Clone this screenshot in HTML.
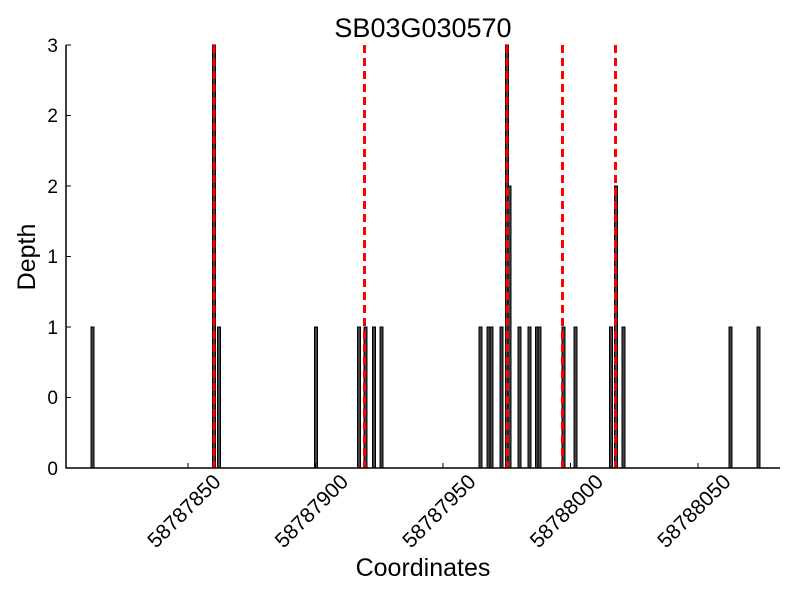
<!DOCTYPE html>
<html><head><meta charset="utf-8"><style>body{margin:0;background:#fff}svg{display:block}</style></head>
<body>
<svg width="800" height="600" xmlns="http://www.w3.org/2000/svg" font-family="Liberation Sans, sans-serif">
<rect width="800" height="600" fill="#fff"/>
<text x="423" y="37" font-size="27" text-anchor="middle">SB03G030570</text>
<g fill="#444" stroke="#000" stroke-width="1">
<rect x="91" y="327" width="3" height="141"/>
<rect x="212.5" y="45" width="3" height="423"/>
<rect x="217.5" y="327" width="3" height="141"/>
<rect x="314.5" y="327" width="3" height="141"/>
<rect x="357.5" y="327" width="3" height="141"/>
<rect x="364" y="327" width="3" height="141"/>
<rect x="372.5" y="327" width="3" height="141"/>
<rect x="380" y="327" width="3" height="141"/>
<rect x="479" y="327" width="3" height="141"/>
<rect x="487" y="327" width="3" height="141"/>
<rect x="490" y="327" width="3" height="141"/>
<rect x="500" y="327" width="3" height="141"/>
<rect x="505.5" y="45" width="3" height="423"/>
<rect x="508" y="186" width="3" height="282"/>
<rect x="518" y="327" width="3" height="141"/>
<rect x="528" y="327" width="3" height="141"/>
<rect x="535.5" y="327" width="3" height="141"/>
<rect x="538" y="327" width="3" height="141"/>
<rect x="562" y="327" width="3" height="141"/>
<rect x="574" y="327" width="3" height="141"/>
<rect x="609.5" y="327" width="3" height="141"/>
<rect x="614.5" y="186" width="3" height="282"/>
<rect x="622" y="327" width="3" height="141"/>
<rect x="729" y="327" width="3" height="141"/>
<rect x="757" y="327" width="3" height="141"/>
</g>
<g stroke="#f00" stroke-width="3" stroke-dasharray="8,5">
<line x1="214" y1="45" x2="214" y2="468"/>
<line x1="364.5" y1="45" x2="364.5" y2="468"/>
<line x1="507" y1="45" x2="507" y2="468"/>
<line x1="562.5" y1="45" x2="562.5" y2="468"/>
<line x1="615.5" y1="45" x2="615.5" y2="468"/>
</g>
<g stroke="#000" stroke-width="1.5">
<line x1="66" y1="45" x2="66" y2="468.5"/>
<line x1="65.5" y1="468" x2="780" y2="468"/>
</g>
<g stroke="#000" stroke-width="1">
<line x1="66" y1="45" x2="71" y2="45"/><line x1="66" y1="115.5" x2="71" y2="115.5"/><line x1="66" y1="186" x2="71" y2="186"/><line x1="66" y1="256.5" x2="71" y2="256.5"/><line x1="66" y1="327" x2="71" y2="327"/><line x1="66" y1="397.5" x2="71" y2="397.5"/>
<line x1="188" y1="468" x2="188" y2="463"/><line x1="315.5" y1="468" x2="315.5" y2="463"/><line x1="443" y1="468" x2="443" y2="463"/><line x1="570.5" y1="468" x2="570.5" y2="463"/><line x1="698" y1="468" x2="698" y2="463"/>
</g>
<g font-size="19" text-anchor="end">
<text x="58" y="52">3</text><text x="58" y="122">2</text><text x="58" y="193">2</text><text x="58" y="263">1</text><text x="58" y="334">1</text><text x="58" y="404">0</text><text x="58" y="475">0</text>
</g>
<g font-size="21" text-anchor="middle">
<text transform="translate(189,516) rotate(-45)">58787850</text>
<text transform="translate(316.5,516) rotate(-45)">58787900</text>
<text transform="translate(444,516) rotate(-45)">58787950</text>
<text transform="translate(571.5,516) rotate(-45)">58788000</text>
<text transform="translate(699,516) rotate(-45)">58788050</text>
</g>
<text x="423" y="576" font-size="25" text-anchor="middle">Coordinates</text>
<text transform="translate(35,257) rotate(-90)" font-size="25" text-anchor="middle">Depth</text>
</svg>
</body></html>
